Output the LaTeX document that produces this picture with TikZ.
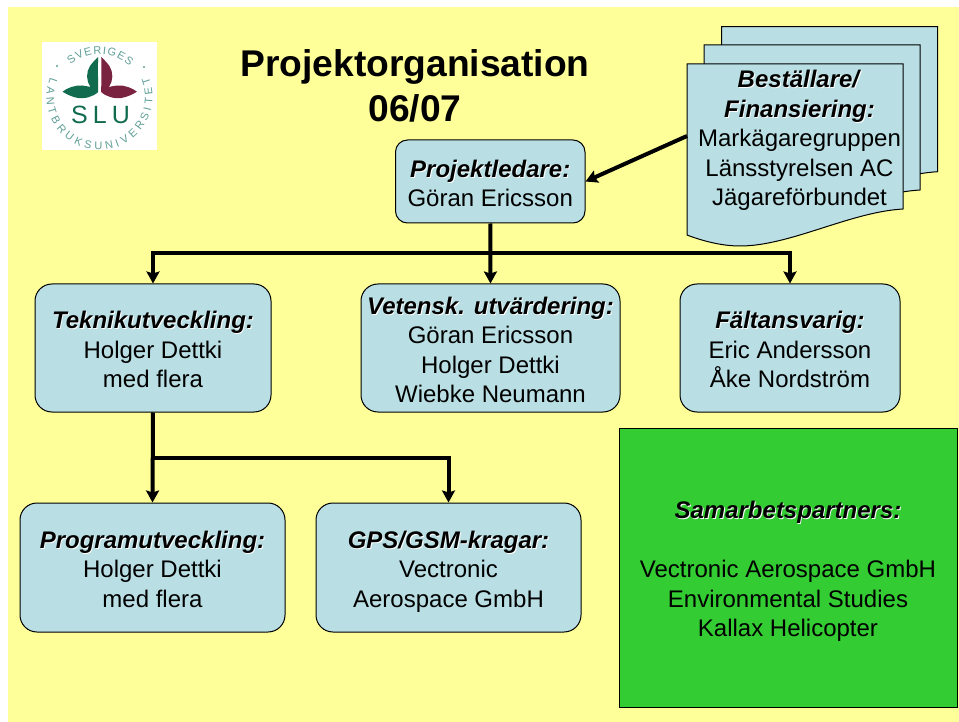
\documentclass[tikz,border=0pt]{standalone}
\usepackage{fontspec}
\setmainfont{Liberation Sans}
\usetikzlibrary{arrows.meta,decorations.text}
\definecolor{slide}{HTML}{FFFF99}
\definecolor{boxfill}{HTML}{B9DFE4}
\definecolor{partner}{HTML}{33CC33}
\definecolor{logotext}{HTML}{5F9F96}
\definecolor{logogreen}{HTML}{106B4F}
\definecolor{logored}{HTML}{7A2340}
\newcommand\headtext[2][21]{\leavevmode\rule{0pt}{#1pt}\rlap{\kern0.9pt\raisebox{-0.9pt}{\textcolor{white}{\textbf{\textit{#2}}}}}\textbf{\textit{#2}}}
\newcommand\pagepath{(687,64) -- (903,64) -- (903,209) .. controls (850,212) and (790,246) .. (740,246) .. controls (720,246) and (700,240) .. (687,235) -- cycle}
\newcommand\leafpath{(98.2,57) .. controls (97.6,68) and (98.2,82) .. (98.2,92) .. controls (93,97) and (84,99) .. (78,98) .. controls (72,97) and (66,94) .. (62.5,91.7) .. controls (67,88) and (75,85) .. (82,85.5) .. controls (85,85.7) and (88,86.5) .. (90.5,87) .. controls (86,81) and (86,72) .. (90,66) .. controls (92,63) and (96,59) .. (98.2,57) -- cycle}
\tikzset{
  x=1pt,y=-1pt,
  body/.style={font=\fontsize{24}{29.5}\selectfont,align=center,text=black,inner sep=0pt},
  orgbox/.style={body,draw=black,line width=1pt,fill=boxfill,rounded corners=17pt},
  link/.style={line width=4pt,draw=black},
  linkarrow/.style={link,-{Stealth[length=12pt,width=13pt,inset=2pt]}},
  page/.style={draw=black,line width=1pt,fill=boxfill},
}
\begin{document}
\begin{tikzpicture}
\useasboundingbox (0,0) rectangle (959,722);
\fill[white] (0,0) rectangle (959,722);
\fill[slide] (8,7) rectangle (959,722);

% logo
\fill[white] (42,42) rectangle (157,150);
\fill[logogreen] \leafpath;
\begin{scope}[xshift=199.4pt,xscale=-1]
\fill[logored] \leafpath;
\end{scope}
\node[inner sep=0pt,text=logogreen] (slu) at (100.5,115) {\fontsize{25}{25}\selectfont\addfontfeature{LetterSpace=20}SLU};
\fill[logotext] (57,66) circle (1.2) (144,67) circle (1.2);
\begin{scope}[shift={(99.5,97)},y=1pt]
\path[decorate,decoration={text along path,text align={fit to path},text={|\fontsize{11}{11}\selectfont\color{logotext}|SVERIGES}}] (132:43) arc (132:46:43);
\path[decorate,decoration={text along path,text align={fit to path},text={|\fontsize{11}{11}\selectfont\color{logotext}|LANTBRUKSUNIVERSITET}}] (158:53) arc (158:382:53);
\end{scope}

% title
\node[font=\bfseries\fontsize{37.2}{45}\selectfont,align=center,inner sep=0pt] (title) at (415,86) {Projektorganisation\\06/07};

% document stack
\draw[page,shift={(34.7,-37.3)}] \pagepath;
\draw[page,shift={(17,-19)}] \pagepath;
\draw[page] \pagepath;
\node[body] (doc) at (799.5,136) {\headtext[26.4]{Beställare/}\\\headtext{Finansiering:}\\Markägaregruppen\\Länsstyrelsen AC\\Jägareförbundet};
\coordinate (docport) at (687,136);

% boxes
\node[orgbox,rounded corners=12pt,minimum width=189.5pt,minimum height=83pt] (led) at (490.25,181.5) {\headtext{Projektledare:}\\Göran Ericsson};
\node[orgbox,minimum width=236pt,minimum height=128pt] (tek) at (153,348) {\headtext{Teknikutveckling:}\\Holger Dettki\\med flera};
\node[orgbox,minimum width=259pt,minimum height=128pt] (vet) at (490.5,348) {\headtext{Vetensk. utvärdering:}\\Göran Ericsson\\Holger Dettki\\Wiebke Neumann};
\node[orgbox,minimum width=220pt,minimum height=128pt] (falt) at (790,348) {\headtext{Fältansvarig:}\\Eric Andersson\\Åke Nordström};
\node[orgbox,minimum width=265pt,minimum height=129pt] (prog) at (152.5,567.5) {\headtext{Programutveckling:}\\Holger Dettki\\med flera};
\node[orgbox,minimum width=265pt,minimum height=129pt] (gps) at (448.5,567.5) {\headtext[25.5]{GPS/GSM-kragar:}\\Vectronic\\Aerospace GmbH};
\node[body,draw=black,line width=1pt,fill=partner,minimum width=338pt,minimum height=279pt] (sam) at (788,567.5) {\headtext[25.5]{Samarbetspartners:}\\[29.5pt]Vectronic Aerospace GmbH\\Environmental Studies\\Kallax Helicopter};

% connectors
\coordinate (busa) at (490.25,253);
\coordinate (busb) at (153,458);
\draw[linkarrow] (docport) -- (led.east);
\draw[linkarrow] (led.south) -- (vet.north);
\draw[linkarrow] (busa) -| (tek.north);
\draw[linkarrow] (busa) -| (falt.north);
\draw[linkarrow] (tek.south) -- (prog.north);
\draw[linkarrow] (busb) -| (gps.north);
\end{tikzpicture}
\end{document}
